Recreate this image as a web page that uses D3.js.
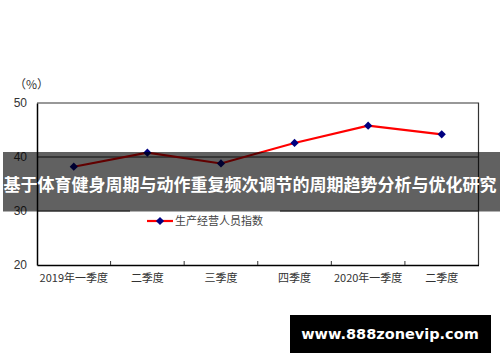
<!doctype html>
<html lang="zh">
    <head>
        <meta charset="utf-8">
        <title>生产经营人员指数</title>
        <style>
            body { margin: 0; background: #fff; }
            svg { display: block; }
        </style>
    </head>
    <body>
        <svg></svg>
        <script src="https://d3js.org/d3.v7.min.js"></script>
        <script>
            //Chart data
            var categories = ["2019年一季度", "二季度", "三季度", "四季度", "2020年一季度", "二季度"];
            var values = [38.2, 40.8, 38.8, 42.6, 45.8, 44.2];
            var yTicks = [20, 30, 40, 50];
            var seriesName = "生产经营人员指数";
            var title = "基于体育健身周期与动作重复频次调节的周期趋势分析与优化研究";
            var watermark = "www.888zonevip.com";

            var svgWidth = 500;
            var svgHeight = 362;
            var plot = {left: 37, right: 478.5, top: 103, bottom: 265};
            var cjk = "'Noto Sans CJK SC', sans-serif";

            var svg = d3.select("svg")
            .attr("width", svgWidth)
            .attr("height", svgHeight);

            var x = d3.scaleBand()
            .domain(categories.map(function(d, i) { return i; }))
            .range([plot.left, plot.right]);
            var y = d3.scaleLinear()
            .domain([20, 50])
            .range([plot.bottom, plot.top]);

            //Gridlines
            svg.selectAll("line.grid")
            .data(yTicks.slice(1, 3))
            .enter()
            .append("line")
            .attr("x1", plot.left).attr("x2", plot.right)
            .attr("y1", function(d) { return y(d); })
            .attr("y2", function(d) { return y(d); })
            .style("stroke", "#222")
            .style("stroke-width", 1);

            //Plot frame: top and right
            svg.append("path")
            .attr("d", "M" + plot.left + "," + y(50) + "H" + plot.right + "V" + plot.bottom)
            .style("fill", "none")
            .style("stroke", "#333")
            .style("stroke-width", 1.2);

            //Y axis
            var yAxis = svg.append("g")
            .attr("transform", "translate(" + plot.left + ",0)")
            .call(d3.axisLeft(y).tickValues(yTicks).tickSize(0).tickPadding(10));
            yAxis.select(".domain").style("stroke", "#000").style("stroke-width", 1.5);
            yAxis.selectAll("text")
            .style("font-family", "'Liberation Sans', Arial, sans-serif")
            .style("font-size", "12px")
            .style("fill", "#333");

            //X axis with ticks at category boundaries
            var xAxis = svg.append("g")
            .attr("transform", "translate(0," + plot.bottom + ")")
            .call(d3.axisBottom(x).tickSize(0).tickPadding(9).tickFormat(function(i) { return categories[i]; }));
            xAxis.select(".domain").style("stroke", "#000").style("stroke-width", 1.5);
            xAxis.selectAll("text")
            .style("font-family", cjk)
            .style("font-size", "11px")
            .style("fill", "#333");
            xAxis.selectAll("line.bound")
            .data(categories.slice(1))
            .enter()
            .append("line")
            .attr("x1", function(d, i) { return x(i + 1); })
            .attr("x2", function(d, i) { return x(i + 1); })
            .attr("y1", 0).attr("y2", -4)
            .style("stroke", "#333");

            //Unit
            svg.append("text")
            .attr("x", 14).attr("y", 89)
            .style("font-family", cjk)
            .style("font-size", "12px")
            .style("fill", "#333")
            .text("（%）");

            //Legend box
            svg.append("rect")
            .attr("x", 130).attr("y", 208)
            .attr("width", 150).attr("height", 26)
            .style("fill", "#fff");

            //Series line
            var line = d3.line()
            .x(function(d, i) { return x(i) + x.bandwidth() / 2; })
            .y(function(d) { return y(d); });
            svg.append("path")
            .datum(values)
            .attr("d", line)
            .style("fill", "none")
            .style("stroke", "#ff0000")
            .style("stroke-width", 2.2);

            //Diamond marker = square turned 45 degrees
            var diamond = d3.symbol().type(d3.symbolSquare).size(34);
            svg.selectAll("path.pt")
            .data(values)
            .enter()
            .append("path")
            .attr("d", diamond)
            .attr("transform", function(d, i) {
                return "translate(" + (x(i) + x.bandwidth() / 2) + "," + y(d) + ") rotate(45)";
            })
            .style("fill", "#000080");

            //Legend entry
            svg.append("line")
            .attr("x1", 147).attr("x2", 173)
            .attr("y1", 221).attr("y2", 221)
            .style("stroke", "#ff0000")
            .style("stroke-width", 2.2);
            svg.append("path")
            .attr("d", diamond)
            .attr("transform", "translate(160,221) rotate(45)")
            .style("fill", "#000080");
            svg.append("text")
            .attr("x", 175).attr("y", 225)
            .style("font-family", cjk)
            .style("font-size", "11px")
            .style("fill", "#444")
            .text(seriesName);

            //Title banner over the chart
            svg.append("rect")
            .attr("x", 3).attr("y", 152)
            .attr("width", 497).attr("height", 59.5)
            .style("fill", "#000")
            .style("fill-opacity", 0.62);
            svg.append("text")
            .attr("x", 250).attr("y", 191)
            .attr("text-anchor", "middle")
            .style("font-family", cjk)
            .style("font-weight", "bold")
            .style("font-size", "17px")
            .style("fill", "#fff")
            .text(title);

            //Watermark
            svg.append("rect")
            .attr("x", 290).attr("y", 315)
            .attr("width", 201).attr("height", 38)
            .style("fill", "#000");
            svg.append("text")
            .attr("x", 390).attr("y", 339)
            .attr("text-anchor", "middle")
            .style("font-family", "'DejaVu Sans', sans-serif")
            .style("font-weight", "bold")
            .style("font-size", "14.5px")
            .style("fill", "#fff")
            .text(watermark);
        </script>
    </body>
</html>
